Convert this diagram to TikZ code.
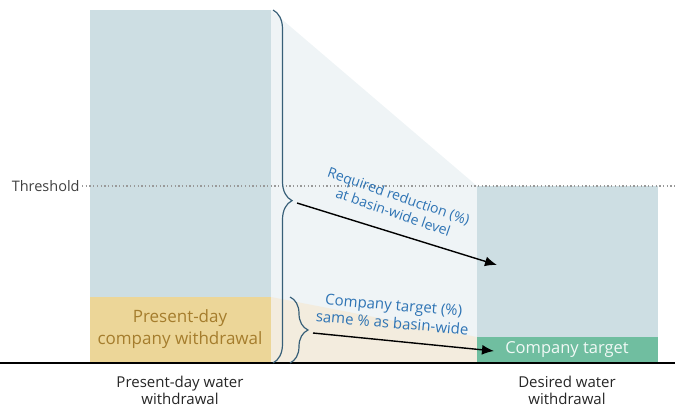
\documentclass[tikz,border=0pt]{standalone}
\usepackage{fontspec}
\setmainfont{Open Sans}
\usetikzlibrary{arrows.meta,decorations.pathreplacing}

\definecolor{barblue}{RGB}{205,222,227}
\definecolor{shadeblue}{RGB}{239,244,246}
\definecolor{baryellow}{RGB}{236,214,152}
\definecolor{shadebeige}{RGB}{243,236,222}
\definecolor{bargreen}{RGB}{112,190,160}
\definecolor{textblue}{RGB}{45,115,180}
\definecolor{textbrown}{RGB}{165,125,45}
\definecolor{bracecol}{RGB}{55,95,120}

\def\base{363}
\def\thr{186}

\tikzset{
	bracedraw/.style 2 args={bracecol,line width=1.2pt,decorate,decoration={brace,amplitude=#1,aspect=#2}},
	note/.style={text=textblue,align=center,inner sep=1pt},
	caption/.style={text=black!85,align=center,inner sep=1pt,font=\fontsize{15}{17}\selectfont}
}

\begin{document}
\begin{tikzpicture}[x=1pt,y=-1pt,>={Latex[length=12pt,width=10pt]},thick]
\useasboundingbox (0,0) rectangle (675,408);

% shading between the two bars
\fill[shadeblue] (271,10) -- (477,\thr) -- (477,\base) -- (271,\base) -- cycle;
\fill[shadebeige] (271,297) -- (477,337) -- (477,\base) -- (271,\base) -- cycle;

% bars
\fill[barblue] (90,10) rectangle (271,297);
\fill[baryellow] (90,297) rectangle (271,\base);
\fill[barblue] (477,\thr) rectangle (658,337);
\fill[bargreen] (477,337) rectangle (658,\base);

% threshold
\node[anchor=east,text=black!75,font=\fontsize{14.5}{15}\selectfont,inner sep=2pt] (thrlabel) at (82,\thr) {Threshold};
\coordinate (thrend) at (675,\thr);
\draw[black!40,line width=1.3pt,dash pattern=on 1.3pt off 2.4pt] (thrlabel.east) -- (thrend);

% ground line
\draw[line width=1.4pt] (0,\base) -- (675,\base);

% braces
\draw[bracedraw={19pt}{0.54}] (273,10) -- (273,\base);
\draw[bracedraw={18pt}{0.5}] (290,297) -- (290,\base);
\coordinate (bigtip) at (297,203);
\coordinate (smalltip) at (313,333);
\coordinate (redend) at (497,265);
\coordinate (compend) at (494,351);

% arrows
\draw[->,line width=1.4pt] (bigtip) -- (redend);
\draw[->,line width=1.4pt] (smalltip) -- (compend);

% labels
\node[note,rotate=-19,font=\fontsize{14}{17}\selectfont] (redlabel) at (396,204) {Required reduction (\%)\\at basin-wide level};
\node[note,rotate=-5,font=\fontsize{15}{18}\selectfont] (complabel) at (393,314) {Company target (\%)\\same \% as basin-wide};
\node[text=textbrown,align=center,font=\fontsize{17}{22}\selectfont] (nowcomp) at (180,329) {Present-day\\company withdrawal};
\node[text=white!90!bargreen,font=\fontsize{16.5}{18}\selectfont] (target) at (567,350) {Company target};
\node[caption] (nowlabel) at (180,390) {Present-day water\\withdrawal};
\node[caption] (desired) at (567,390) {Desired water\\withdrawal};
\end{tikzpicture}
\end{document}
